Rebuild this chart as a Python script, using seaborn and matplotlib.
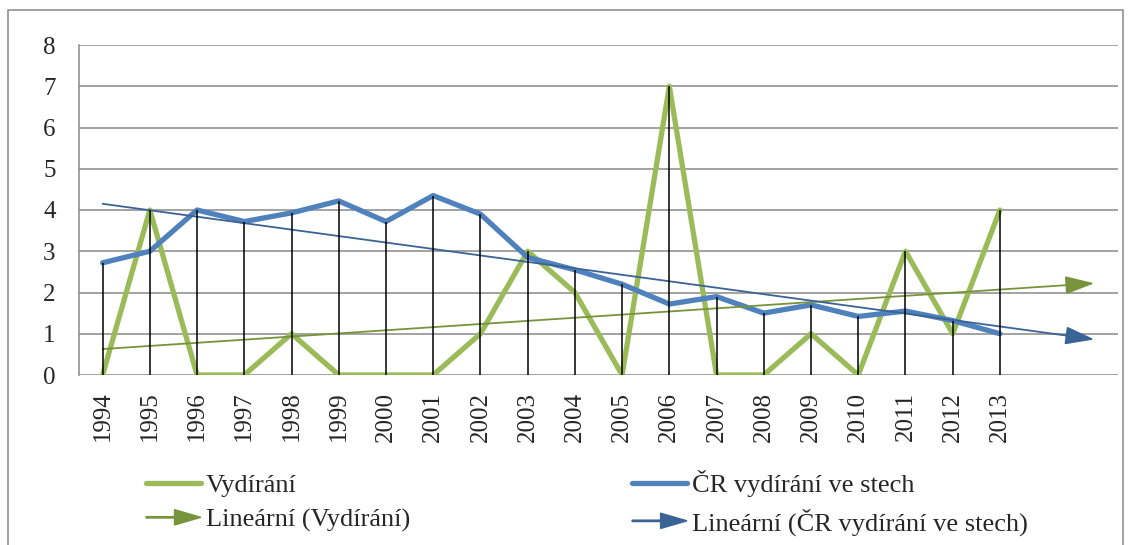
import matplotlib
matplotlib.use('Agg')
import matplotlib.pyplot as plt
import numpy as np
import pandas as pd
import seaborn as sns
from matplotlib.patches import FancyArrow, Rectangle
from matplotlib.legend_handler import HandlerPatch
from matplotlib.lines import Line2D

# data
years = list(range(1994, 2014))
vydirani = [0, 4, 0, 0, 1, 0, 0, 0, 1, 3, 2, 0, 7, 0, 0, 1, 0, 3, 1, 4]
cr_ve_stech = [2.72, 3.0, 4.0, 3.72, 3.93, 4.22, 3.72, 4.35, 3.9, 2.85,
               2.55, 2.2, 1.72, 1.9, 1.5, 1.7, 1.42, 1.55, 1.32, 1.0]
y_ticks = [0, 1, 2, 3, 4, 5, 6, 7, 8]
forecast = 2  # trend lines run two periods further

GREEN = '#9BBB59'
BLUE = '#4F81BD'
GREEN_TR = '#77933C'
BLUE_TR = '#3A6396'
GRID = '#898989'

sns.set_style('white')
plt.rcParams['font.family'] = ['Liberation Serif', 'DejaVu Serif']

fig = plt.figure(figsize=(11.31, 5.45), dpi=100)
ax = fig.add_axes([79 / 1131, 1 - 375 / 545, (1118 - 79) / 1131, (375 - 45) / 545])

df = pd.DataFrame({'rok': years, 'Vydírání': vydirani, 'ČR vydírání ve stech': cr_ve_stech})

sns.lineplot(data=df, x='rok', y='Vydírání', color=GREEN, lw=3.8, ax=ax, zorder=3)
sns.lineplot(data=df, x='rok', y='ČR vydírání ve stech', color=BLUE, lw=3.8, ax=ax, zorder=4)

# trend lines (linear fit, extended forward)
x_end = years[-1] + forecast
for vals, col in ((vydirani, GREEN_TR), (cr_ve_stech, BLUE_TR)):
    k, q = np.polyfit(years, vals, 1)
    ax.annotate('', xy=(x_end, k * x_end + q), xytext=(years[0], k * years[0] + q),
                arrowprops=dict(arrowstyle='-|>,head_length=0.9,head_width=0.28',
                                lw=1.3, color=col, shrinkA=0, shrinkB=0,
                                mutation_scale=20),
                zorder=5)

# drop lines
tops = np.maximum(vydirani, cr_ve_stech)
ax.vlines(years, 0, tops, color='black', lw=1.1, zorder=6)

ax.set_xlim(years[0] - 0.5, x_end + 0.5)
ax.set_ylim(0, 8)
ax.set_yticks(y_ticks)
ax.set_xticks(years)
ax.set_xticklabels([str(y) for y in years], rotation=90)
ax.set_xlabel('')
ax.set_ylabel('')
ax.grid(axis='y', color=GRID, lw=1.1)
ax.grid(axis='x', visible=False)
for s in ['top', 'right', 'bottom']:
    ax.spines[s].set_visible(False)
ax.spines['left'].set_color(GRID)
ax.spines['left'].set_linewidth(1.1)
ax.tick_params(axis='y', length=5.8, color=GRID, width=1.1, labelsize=18, pad=11)
ax.tick_params(axis='x', length=0, labelsize=18, pad=12)


def make_arrow(legend, orig_handle, xdescent, ydescent, width, height, fontsize):
    return FancyArrow(0, height / 2, width, 0, width=1.0, head_width=11,
                      head_length=19, length_includes_head=True,
                      color=orig_handle.get_facecolor())


handles = [
    Line2D([], [], color=GREEN, lw=3.8, solid_capstyle='round'),
    FancyArrow(0, 0, 1, 0, color=GREEN_TR),
    Line2D([], [], color=BLUE, lw=3.8, solid_capstyle='round'),
    FancyArrow(0, 0, 1, 0, color=BLUE_TR),
]
labels = ['Vydírání', 'Lineární (Vydírání)', 'ČR vydírání ve stech',
          'Lineární (ČR vydírání ve stech)']
fig.legend(handles, labels, loc='upper left', bbox_to_anchor=(146 / 1131, 1 - 470 / 545),
           ncol=2, frameon=False, fontsize=19, handlelength=2.08, handletextpad=0.2,
           columnspacing=8.4, labelspacing=0.42, borderpad=0, borderaxespad=0,
           handler_map={FancyArrow: HandlerPatch(patch_func=make_arrow)})

# outer chart frame
fig.patches.append(Rectangle((8 / 1131, -0.05), (1123 - 8) / 1131, 1.05 - 10 / 545,
                             transform=fig.transFigure, fill=False, ec=GRID, lw=1.1))

fig.savefig('out.png', dpi=100)
